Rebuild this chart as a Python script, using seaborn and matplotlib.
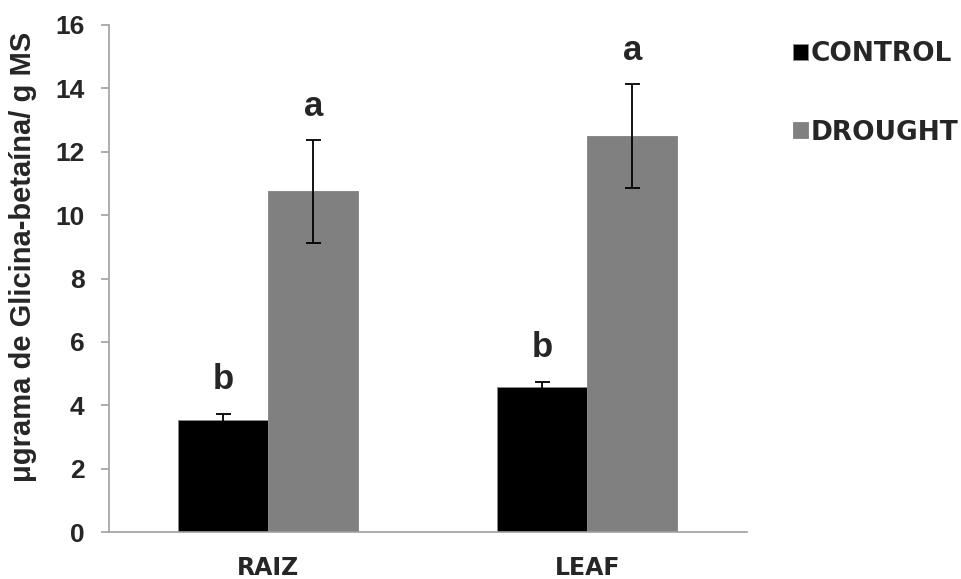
import matplotlib
matplotlib.use("Agg")
import matplotlib.pyplot as plt
import seaborn as sns
import pandas as pd

# ---- data ----
organs = ["RAIZ", "LEAF"]
treatments = ["CONTROL", "DROUGHT"]
control_mean = [3.55, 4.57]
drought_mean = [10.75, 12.49]
control_err = [0.18, 0.17]
drought_err = [1.62, 1.64]
control_letters = ["b", "b"]
drought_letters = ["a", "a"]
y_ticks = [0, 2, 4, 6, 8, 10, 12, 14, 16]
y_label = "μgrama de Glicina-betaína/ g MS"

sns.set_theme(style="white")
plt.rcParams["font.family"] = ["Liberation Sans", "DejaVu Sans"]

df = pd.DataFrame({
    "organ": organs * 2,
    "treatment": [treatments[0]] * 2 + [treatments[1]] * 2,
    "value": control_mean + drought_mean,
})
errs = {treatments[0]: control_err, treatments[1]: drought_err}
letters = {treatments[0]: control_letters, treatments[1]: drought_letters}
means = {treatments[0]: control_mean, treatments[1]: drought_mean}

fig = plt.figure(figsize=(9.62, 5.79), dpi=100)
ax = fig.add_axes([108.8 / 962, 1 - 532 / 579, 638 / 962, 507 / 579])

sns.barplot(data=df, x="organ", y="value", hue="treatment", order=organs,
            hue_order=treatments, palette=["#000000", "#808080"], width=0.564,
            gap=0, errorbar=None, saturation=1, edgecolor="#8a8a8a",
            linewidth=0.7, ax=ax)

for cont, tr in zip(ax.containers, treatments):
    for bar, m, e, lt in zip(cont, means[tr], errs[tr], letters[tr]):
        xc = bar.get_x() + bar.get_width() / 2
        ax.errorbar(xc, m, yerr=e, fmt="none", ecolor="black", elinewidth=1.3,
                    capsize=5.4, capthick=1.3, zorder=5)
        ax.text(xc, m + e + 0.55, lt, ha="center", va="bottom", fontsize=25,
                fontweight="bold", family=["Liberation Sans"])

ax.set_xlim(-0.5, 1.5)
ax.set_ylim(0, 16)
ax.set_yticks(y_ticks)
ax.set_yticklabels([str(t) for t in y_ticks], fontsize=19, fontweight="bold")
ax.set_xticks(range(len(organs)))
ax.set_xticklabels(organs, fontsize=17, fontweight="bold", family=["DejaVu Sans"])
ax.set_xlabel("")
ax.set_ylabel(y_label, fontsize=21, fontweight="bold")
ax.yaxis.set_label_coords(-0.112, 0.543)

for s in ["top", "right"]:
    ax.spines[s].set_visible(False)
for s in ["left", "bottom"]:
    ax.spines[s].set_color("#a0a0a0")
    ax.spines[s].set_linewidth(1.2)
ax.tick_params(axis="y", left=True, length=5.5, width=1.2, color="#a0a0a0",
               pad=12, direction="out")
ax.tick_params(axis="x", bottom=False, length=0, pad=17)

leg = ax.legend(loc="upper left", bbox_to_anchor=(793 / 962, 1 - 41 / 579),
                bbox_transform=fig.transFigure, frameon=False, handlelength=0.55,
                handleheight=0.55, handletextpad=0.12, labelspacing=2.0,
                borderaxespad=0, borderpad=0,
                prop={"family": "DejaVu Sans", "weight": "bold", "size": 19})

fig.savefig("out.png", dpi=100)
